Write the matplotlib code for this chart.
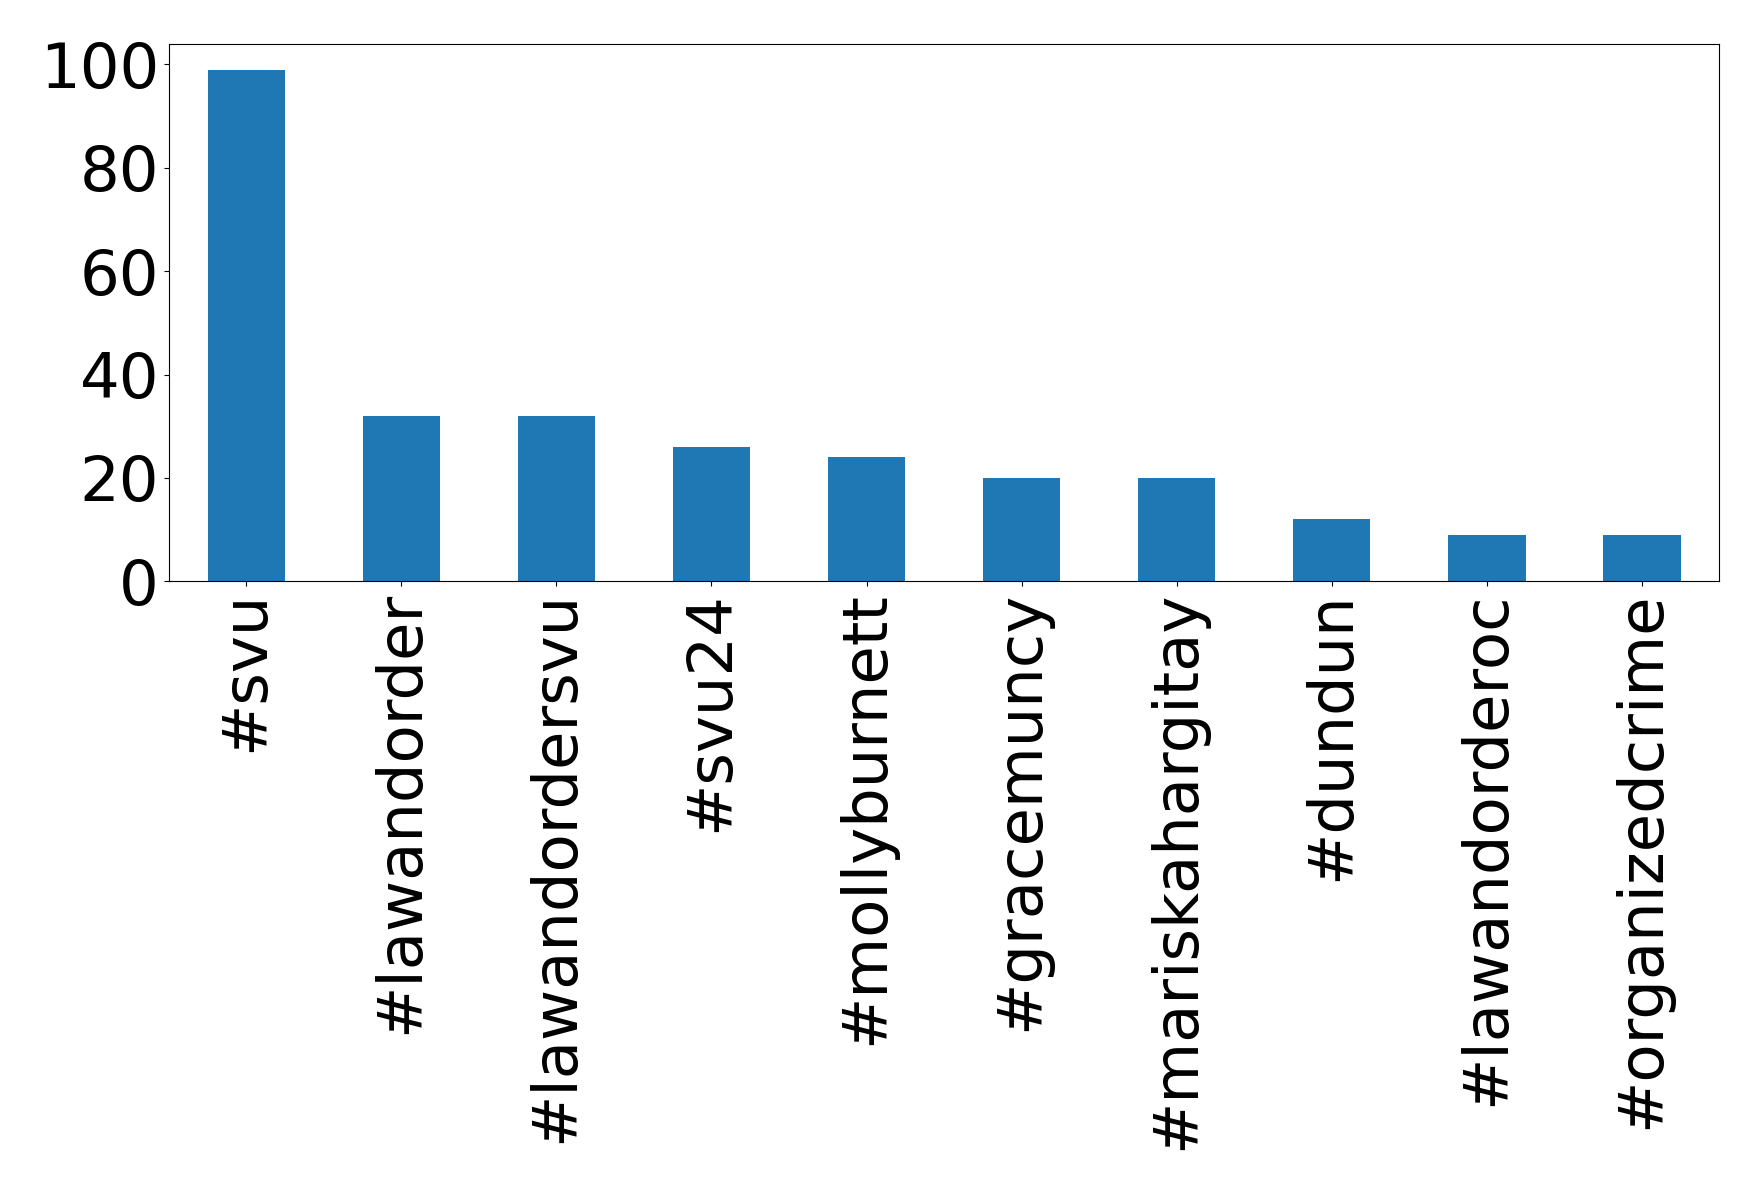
import matplotlib
matplotlib.use("Agg")
import matplotlib.pyplot as plt

tags = ["#svu", "#lawandorder", "#lawandordersvu", "#svu24", "#mollyburnett",
        "#gracemuncy", "#mariskahargitay", "#dundun", "#lawandorderoc", "#organizedcrime"]
counts = [99, 32, 32, 26, 24, 20, 20, 12, 9, 9]

fig = plt.figure(figsize=(17.58, 11.91), dpi=100)
ax = fig.add_axes([0.096, 0.512, 0.882, 0.451])
x = range(len(tags))
ax.bar(x, counts, width=0.5, color="#1f77b4")
ax.set_xlim(-0.5, len(tags) - 0.5)
ax.set_xticks(list(x))
ax.set_xticklabels(tags, rotation=90, fontsize=45)
ax.set_yticks([0, 20, 40, 60, 80, 100])
ax.tick_params(axis="y", labelsize=45)
fig.savefig("out.png", dpi=100)
